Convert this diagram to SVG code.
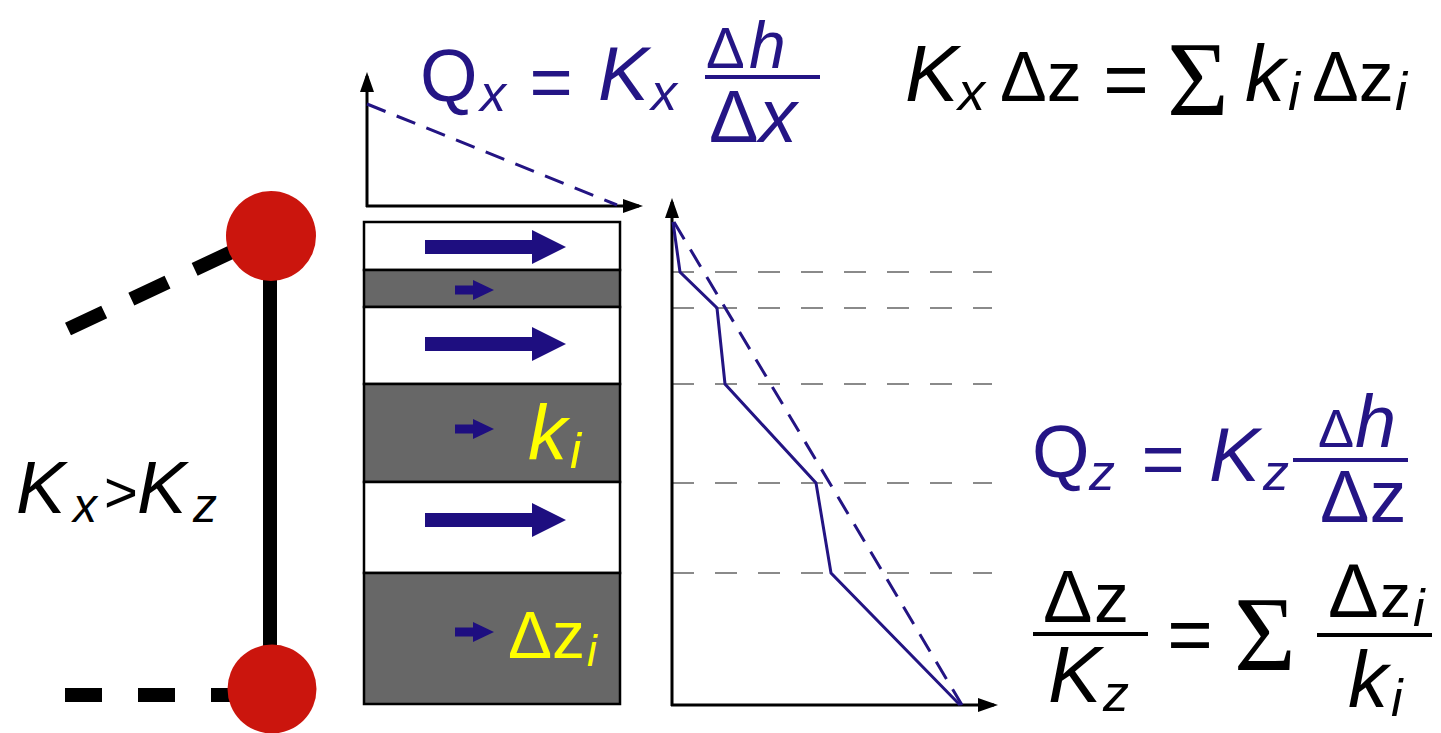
<svg xmlns="http://www.w3.org/2000/svg" width="1441" height="733" viewBox="0 0 1441 733">
<defs>
<style>
.t{font-family:"Liberation Sans",Arial,sans-serif}
.it{font-style:italic}
.sg{font-family:"Liberation Serif","Times New Roman",serif}
.nv{fill:#241585}
.bk{fill:#000}
.yl{fill:#ffff00}
.axis{stroke:#000;stroke-width:3;fill:none}
.wl{fill:#fff;stroke:#000;stroke-width:2.5}
.gl{fill:#676767;stroke:#000;stroke-width:2.5}
.grid{stroke:#8a8a8a;stroke-width:2;stroke-dasharray:22 21;fill:none}
.navyline{stroke:#231483;stroke-width:3;fill:none}
.navydash{stroke:#231483;stroke-width:3;fill:none;stroke-dasharray:20 12}
.frac{stroke-width:4}
.flow{fill:#1e0e80}
</style>
<marker id="ah" viewBox="0 0 20 14" markerUnits="userSpaceOnUse" markerWidth="20" markerHeight="14" refX="16" refY="7" orient="auto">
<path d="M0,0 L20,7 L0,14 Z" fill="#000"/>
</marker>
<path id="bigArrow" d="M0,-7 H107 V-17 L141,0 L107,17 V7 H0 Z"/>
<path id="smallArrow" d="M0,-4.5 H18 V-10 L39,0 L18,10 V4.5 H0 Z"/>
</defs>
<rect width="1441" height="733" fill="#fff"/>

<g id="connectors">
<line x1="68" y1="329" x2="240" y2="248" stroke="#000" stroke-width="14" stroke-dasharray="40 30"/>
<line x1="65" y1="695" x2="240" y2="695" stroke="#000" stroke-width="14" stroke-dasharray="37 36"/>
<line x1="270" y1="236" x2="270" y2="689" stroke="#000" stroke-width="14"/>
</g>

<g id="node-top">
<circle cx="271" cy="236" r="45" fill="#cb150d"/>
</g>
<g id="node-bottom">
<circle cx="272" cy="689" r="44.5" fill="#cb150d"/>
</g>

<g id="label-kx-kz">
<text class="t it bk" x="16" y="513" font-size="74">K</text>
<text class="t it bk" x="73" y="522" font-size="48">x</text>
<text class="t bk" x="104" y="512" font-size="58">&gt;</text>
<text class="t it bk" x="137" y="513" font-size="74">K</text>
<text class="t it bk" x="193" y="522" font-size="48">z</text>
</g>

<g id="head-graph-x">
<line class="axis" x1="367" y1="207" x2="367" y2="76" marker-end="url(#ah)"/>
<line class="axis" x1="366" y1="206" x2="639" y2="206" marker-end="url(#ah)"/>
<line class="navydash" x1="367" y1="104" x2="617" y2="205"/>
</g>

<g id="layers">
<rect class="wl" x="364" y="222" width="256" height="48"/>
<rect class="gl" x="364" y="270" width="256" height="37"/>
<rect class="wl" x="364" y="307" width="256" height="77"/>
<rect class="gl" x="364" y="384" width="256" height="98"/>
<rect class="wl" x="364" y="482" width="256" height="91"/>
<rect class="gl" x="364" y="573" width="256" height="131"/>
<use href="#bigArrow" class="flow" x="425" y="247"/>
<use href="#smallArrow" class="flow" x="455" y="290"/>
<use href="#bigArrow" class="flow" x="425" y="344"/>
<use href="#smallArrow" class="flow" x="455" y="429"/>
<use href="#bigArrow" class="flow" x="425" y="520"/>
<use href="#smallArrow" class="flow" x="455" y="632"/>
<text class="t it yl" x="528" y="460" font-size="78">k</text>
<text class="t it yl" x="570" y="468" font-size="50">i</text>
<text class="t yl" x="508" y="658" font-size="66">Δz</text>
<text class="t it yl" x="587" y="666" font-size="44">i</text>
</g>

<g id="head-graph-z">
<line class="grid" x1="672" y1="272" x2="992" y2="272"/>
<line class="grid" x1="672" y1="308" x2="992" y2="308"/>
<line class="grid" x1="672" y1="384" x2="992" y2="384"/>
<line class="grid" x1="672" y1="483" x2="992" y2="483"/>
<line class="grid" x1="672" y1="573" x2="992" y2="573"/>
<line class="axis" x1="672" y1="706" x2="672" y2="202" marker-end="url(#ah)"/>
<line class="axis" x1="671" y1="705" x2="994" y2="705" marker-end="url(#ah)"/>
<polyline class="navyline" points="673,222 680,272 717,308 725,384 816,483 831,573 960,705"/>
<line class="navydash" x1="674" y1="222" x2="962" y2="705"/>
</g>

<g id="eq-qx">
<text class="t nv" x="420" y="101" font-size="74">Q</text>
<text class="t it nv" x="480" y="111" font-size="52">x</text>
<text class="t nv" x="551" y="107" font-size="74" text-anchor="middle">=</text>
<text class="t it nv" x="598" y="100" font-size="76">K</text>
<text class="t it nv" x="651" y="110" font-size="52">x</text>
<line class="frac" x1="705" y1="77" x2="820" y2="77" stroke="#241585"/>
<text class="t nv" x="706" y="68" font-size="58">Δ</text>
<text class="t it nv" x="749" y="68" font-size="66">h</text>
<text class="t nv" x="709" y="142" font-size="74">Δ</text>
<text class="t it nv" x="759" y="142" font-size="76">x</text>
</g>

<g id="eq-sum-x">
<text class="t it bk" x="905" y="101" font-size="80">K</text>
<text class="t it bk" x="958" y="110" font-size="54">x</text>
<text class="t bk" x="1000" y="101" font-size="70">Δz</text>
<text class="t bk" x="1126" y="106" font-size="78" text-anchor="middle">=</text>
<text class="sg bk" x="1167" y="115" font-size="106">Σ</text>
<text class="t it bk" x="1245" y="101" font-size="80">k</text>
<text class="t it bk" x="1288" y="110" font-size="54">i</text>
<text class="t bk" x="1312" y="101" font-size="70">Δz</text>
<text class="t it bk" x="1395" y="110" font-size="54">i</text>
</g>

<g id="eq-qz">
<text class="t nv" x="1032" y="477" font-size="74">Q</text>
<text class="t it nv" x="1089" y="490" font-size="52">z</text>
<text class="t nv" x="1163" y="484" font-size="74" text-anchor="middle">=</text>
<text class="t it nv" x="1209" y="481" font-size="76">K</text>
<text class="t it nv" x="1263" y="490" font-size="52">z</text>
<line class="frac" x1="1293" y1="460" x2="1408" y2="460" stroke="#241585"/>
<text class="t nv" x="1318" y="447" font-size="54">Δ</text>
<text class="t it nv" x="1355" y="447" font-size="74">h</text>
<text class="t nv" x="1320" y="522" font-size="74">Δz</text>
</g>

<g id="eq-series">
<text class="t bk" x="1043" y="622" font-size="74">Δ</text>
<text class="t bk" x="1094" y="622" font-size="70">z</text>
<line class="frac" x1="1033" y1="634" x2="1148" y2="634" stroke="#000"/>
<text class="t it bk" x="1048" y="702" font-size="80">K</text>
<text class="t it bk" x="1103" y="711" font-size="52">z</text>
<text class="t bk" x="1190" y="661" font-size="78" text-anchor="middle">=</text>
<text class="sg bk" x="1234" y="670" font-size="106">Σ</text>
<line class="frac" x1="1317" y1="635" x2="1432" y2="635" stroke="#000"/>
<text class="t bk" x="1328" y="617" font-size="76">Δ</text>
<text class="t bk" x="1380" y="617" font-size="62">z</text>
<text class="t it bk" x="1413" y="626" font-size="52">i</text>
<text class="t it bk" x="1348" y="707" font-size="80">k</text>
<text class="t it bk" x="1391" y="716" font-size="52">i</text>
</g>
</svg>
